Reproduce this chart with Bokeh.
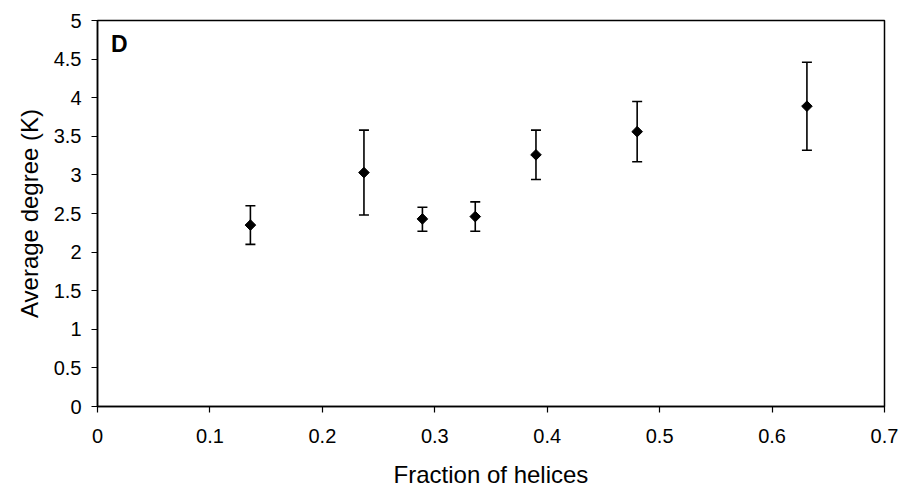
import numpy as np
from bokeh.plotting import figure
from bokeh.models import ColumnDataSource, Range1d, FixedTicker, Whisker, TeeHead, Label
from bokeh.embed import file_html
from bokeh.resources import INLINE

# Data
frac_helices = [0.136, 0.237, 0.289, 0.336, 0.390, 0.480, 0.631]
avg_degree = [2.35, 3.03, 2.43, 2.46, 3.26, 3.56, 3.89]
err_upper = [2.60, 3.58, 2.58, 2.65, 3.58, 3.95, 4.46]
err_lower = [2.10, 2.48, 2.27, 2.27, 2.94, 3.17, 3.32]

x_ticks = [0, 0.1, 0.2, 0.3, 0.4, 0.5, 0.6, 0.7]
x_tick_labels = ["0", "0.1", "0.2", "0.3", "0.4", "0.5", "0.6", "0.7"]
y_ticks = [0, 0.5, 1, 1.5, 2, 2.5, 3, 3.5, 4, 4.5, 5]
y_tick_labels = ["0", "0.5", "1", "1.5", "2", "2.5", "3", "3.5", "4", "4.5", "5"]

FONT = "Liberation Sans"

src = ColumnDataSource(dict(x=frac_helices, y=avg_degree, upper=err_upper, lower=err_lower))

p = figure(width=914, height=490, output_backend="svg", toolbar_location=None,
           x_range=Range1d(0, 0.7), y_range=Range1d(0, 5),
           min_border_left=97, min_border_right=30, min_border_top=20, min_border_bottom=83)
p.background_fill_color = "white"
p.border_fill_color = "white"
p.outline_line_color = "black"
p.outline_line_width = 1.5
p.xgrid.visible = False
p.ygrid.visible = False

for ax in (p.xaxis[0], p.yaxis[0]):
    ax.axis_line_color = "black"
    ax.axis_line_width = 1.5
    ax.major_tick_line_color = "black"
    ax.major_tick_line_width = 1.2
    ax.major_tick_out = 6
    ax.major_tick_in = 0
    ax.minor_tick_line_color = None
    ax.major_label_text_font = FONT
    ax.major_label_text_font_size = "20px"
    ax.major_label_text_color = "black"
    ax.axis_label_text_font = FONT
    ax.axis_label_text_font_size = "24px"
    ax.axis_label_text_font_style = "normal"
    ax.axis_label_text_color = "black"

p.xaxis[0].ticker = FixedTicker(ticks=x_ticks)
p.xaxis[0].major_label_overrides = {t: l for t, l in zip(x_ticks, x_tick_labels)}
p.yaxis[0].ticker = FixedTicker(ticks=y_ticks)
p.yaxis[0].major_label_overrides = {t: l for t, l in zip(y_ticks, y_tick_labels)}
p.xaxis[0].axis_label = "Fraction of helices"
p.yaxis[0].axis_label = "Average degree (K)"
p.xaxis[0].major_label_standoff = 16
p.yaxis[0].major_label_standoff = 10
p.xaxis[0].axis_label_standoff = 15
p.yaxis[0].axis_label_standoff = 8

whisk = Whisker(source=src, base="x", upper="upper", lower="lower", dimension="height",
                line_color="black", line_width=1.6,
                upper_head=TeeHead(size=10, line_color="black", line_width=1.6),
                lower_head=TeeHead(size=10, line_color="black", line_width=1.6))
p.add_layout(whisk)

p.scatter("x", "y", source=src, marker="square", size=7.5, angle=np.pi / 4,
          fill_color="black", line_color="black", line_width=1)

p.add_layout(Label(x=0.012, y=4.70, text="D", text_font=FONT, text_font_size="23px",
                   text_font_style="bold", text_color="black", text_baseline="middle",
                   text_align="left"))

open("out.html", "w").write(file_html(p, INLINE))
